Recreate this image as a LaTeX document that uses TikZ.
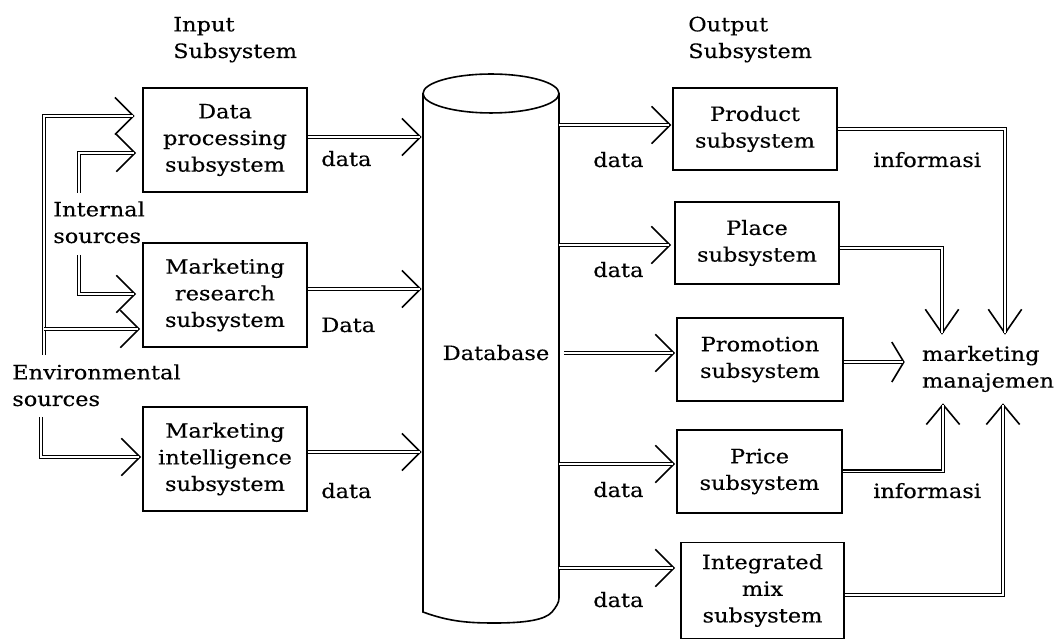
\documentclass[tikz,border=0pt]{standalone}
\usepackage{fontspec}
\setmainfont{DejaVu Serif}[FakeStretch=1.14,FakeBold=0.3]
\usetikzlibrary{arrows.meta}
\tikzset{
  box/.style={draw, line width=1.4pt, align=center, inner sep=0pt},
  lbl/.style={anchor=base west, inner sep=0pt},
  mlbl/.style={anchor=base west, inner sep=0pt, align=left},
  tipline/.style={line width=1pt, -{Straight Barb[length=14pt,width=28pt,line width=1.2pt]}},
  downtip/.style={-{Straight Barb[length=18pt,width=25pt,line width=1.2pt]}},
  uptip/.style={-{Straight Barb[length=15pt,width=25pt,line width=1.2pt]}},
  narrowtip/.style={-{Straight Barb[length=9pt,width=30pt,line width=1.2pt]}},
  dbl/.style={double, line width=1pt, double distance=1pt},
  cyl/.style={line width=1.2pt},
}
\newcommand\DA[3][]{\draw[tipline,#1,shorten >=#2]#3;\draw[dbl,shorten >=#2+1.6pt]#3;}
\begin{document}
\begin{tikzpicture}[x=0.75pt,y=-0.75pt,font=\fontsize{14.8}{20}\selectfont]
\useasboundingbox (0,0) rectangle (1058,641);

% input boxes
\node[box, minimum width=123pt, minimum height=78pt] (dp) at (225,140) {Data\\processing\\subsystem};
\node[box, minimum width=123pt, minimum height=78pt] (mr) at (225,295) {Marketing\\research\\subsystem};
\node[box, minimum width=123pt, minimum height=78pt] (mi) at (225,459) {Marketing\\intelligence\\subsystem};

% database
\node[minimum width=102pt, minimum height=411.75pt, inner sep=0pt] (db) at (491,348.5) {};
\draw[cyl] (491,93.5) ellipse [x radius=51pt, y radius=14.6pt];
\draw[cyl] (423,93.5) -- (423,612) .. controls (450,622) and (470,623) .. (495,623)
  .. controls (525,623) and (545,620) .. (552,612) .. controls (556,607) and (559,603) .. (559,598) -- (559,93.5);
\node[anchor=base, inner sep=0pt] (dbt) at (496,360) {Database};

% output boxes
\node[box, minimum width=123pt, minimum height=61.5pt] (prod) at (755,129) {Product\\subsystem};
\node[box, minimum width=123pt, minimum height=61.5pt] (place) at (757,243) {Place\\subsystem};
\node[box, minimum width=124.5pt, minimum height=62.25pt] (promo) at (760,359.5) {Promotion\\subsystem};
\node[box, minimum width=123.75pt, minimum height=62.25pt] (price) at (759.5,471.5) {Price\\subsystem};
\node[box, minimum width=122.25pt, minimum height=72pt] (integ) at (762.5,590.5) {Integrated\\mix\\subsystem};

\node[align=left, text width=97.5pt, inner xsep=12.75pt, inner ysep=0pt, minimum height=51pt] (mm) at (987,369) {marketing\\manajemen};

% labels (base = last line)
\node[mlbl] (inl) at (173,58) {Input\\Subsystem};
\node[mlbl] (outl) at (688,58) {Output\\Subsystem};
\node[mlbl] (intl) at (53,243) {Internal\\sources};
\node[mlbl] (envl) at (12,406) {Environmental\\sources};
\node[lbl] at (321,166) {data};
\node[lbl] at (321,332) {Data};
\node[lbl] at (321,498) {data};
\node[lbl] at (593,167) {data};
\node[lbl] at (593,277) {data};
\node[lbl] at (593,497) {data};
\node[lbl] at (593,607) {data};
\node[lbl] at (873,167) {informasi};
\node[lbl] at (873,498) {informasi};

% source connectors
\coordinate (e0) at (44,355);
\coordinate (e1) at (41,417);
\coordinate (i0) at (79,193);
\coordinate (i1) at (79,255);
\coordinate (t1) at ([yshift=18pt]dp.west);
\coordinate (t2) at ([yshift=-9.75pt]dp.west);
\coordinate (t3) at ([yshift=0.75pt]mr.west);
\coordinate (t4) at ([yshift=-25.5pt]mr.west);
\coordinate (t5) at ([yshift=1.5pt]mi.west);
\DA{5.5pt}{(e0) |- (t1)}
\DA{4.5pt}{(i0) |- (t2)}
\DA{4.5pt}{(i1) |- (t3)}
\DA{1.5pt}{(t4 -| e0) -- (t4)}
\DA{0.75pt}{(e1) |- (t5)}

% input to database
\coordinate (s6) at ([yshift=2.25pt]dp.east);
\coordinate (s7) at ([yshift=4.5pt]mr.east);
\coordinate (s8) at ([yshift=5.25pt]mi.east);
\DA{0.75pt}{(s6) -- (s6 -| db.west)}
\DA{0.75pt}{(s7) -- (s7 -| db.west)}
\DA{0.75pt}{(s8) -- (s8 -| db.west)}

% database to outputs
\coordinate (d9) at ([yshift=3pt]prod.west);
\coordinate (d10) at ([yshift=-1.5pt]place.west);
\coordinate (d11) at ([yshift=4.9pt]promo.west);
\coordinate (d12) at ([yshift=5.6pt]price.west);
\coordinate (d13) at ([yshift=16.9pt]integ.west);
\DA{0.5pt}{(d9 -| db.east) -- (d9)}
\DA{2.25pt}{(d10 -| db.east) -- (d10)}
\DA{0.75pt}{([xshift=3.75pt]d11 -| db.east) -- (d11)}
\DA{0.75pt}{(d12 -| db.east) -- (d12)}
\DA{3.75pt}{(d13 -| db.east) -- (d13)}

% outputs to marketing manajemen
\coordinate (m1) at ([xshift=13.5pt]mm.north);
\coordinate (m2) at ([xshift=-33.75pt]mm.north);
\coordinate (m3) at ([xshift=-33pt]mm.south);
\coordinate (m4) at ([xshift=12pt]mm.south);
\coordinate (o2) at ([yshift=-3.75pt]place.east);
\coordinate (o3) at ([yshift=-1.9pt]promo.east);
\coordinate (o5) at ([yshift=-3.4pt]integ.east);
\DA[downtip]{0pt}{(prod.east) -| (m1)}
\DA[downtip]{0pt}{(o2) -| (m2)}
\DA[narrowtip]{0pt}{(o3) -- (o3 -| mm.west)}
\DA[uptip]{0pt}{(price.east) -| (m3)}
\DA[uptip]{0pt}{(o5) -| (m4)}
\end{tikzpicture}
\end{document}
